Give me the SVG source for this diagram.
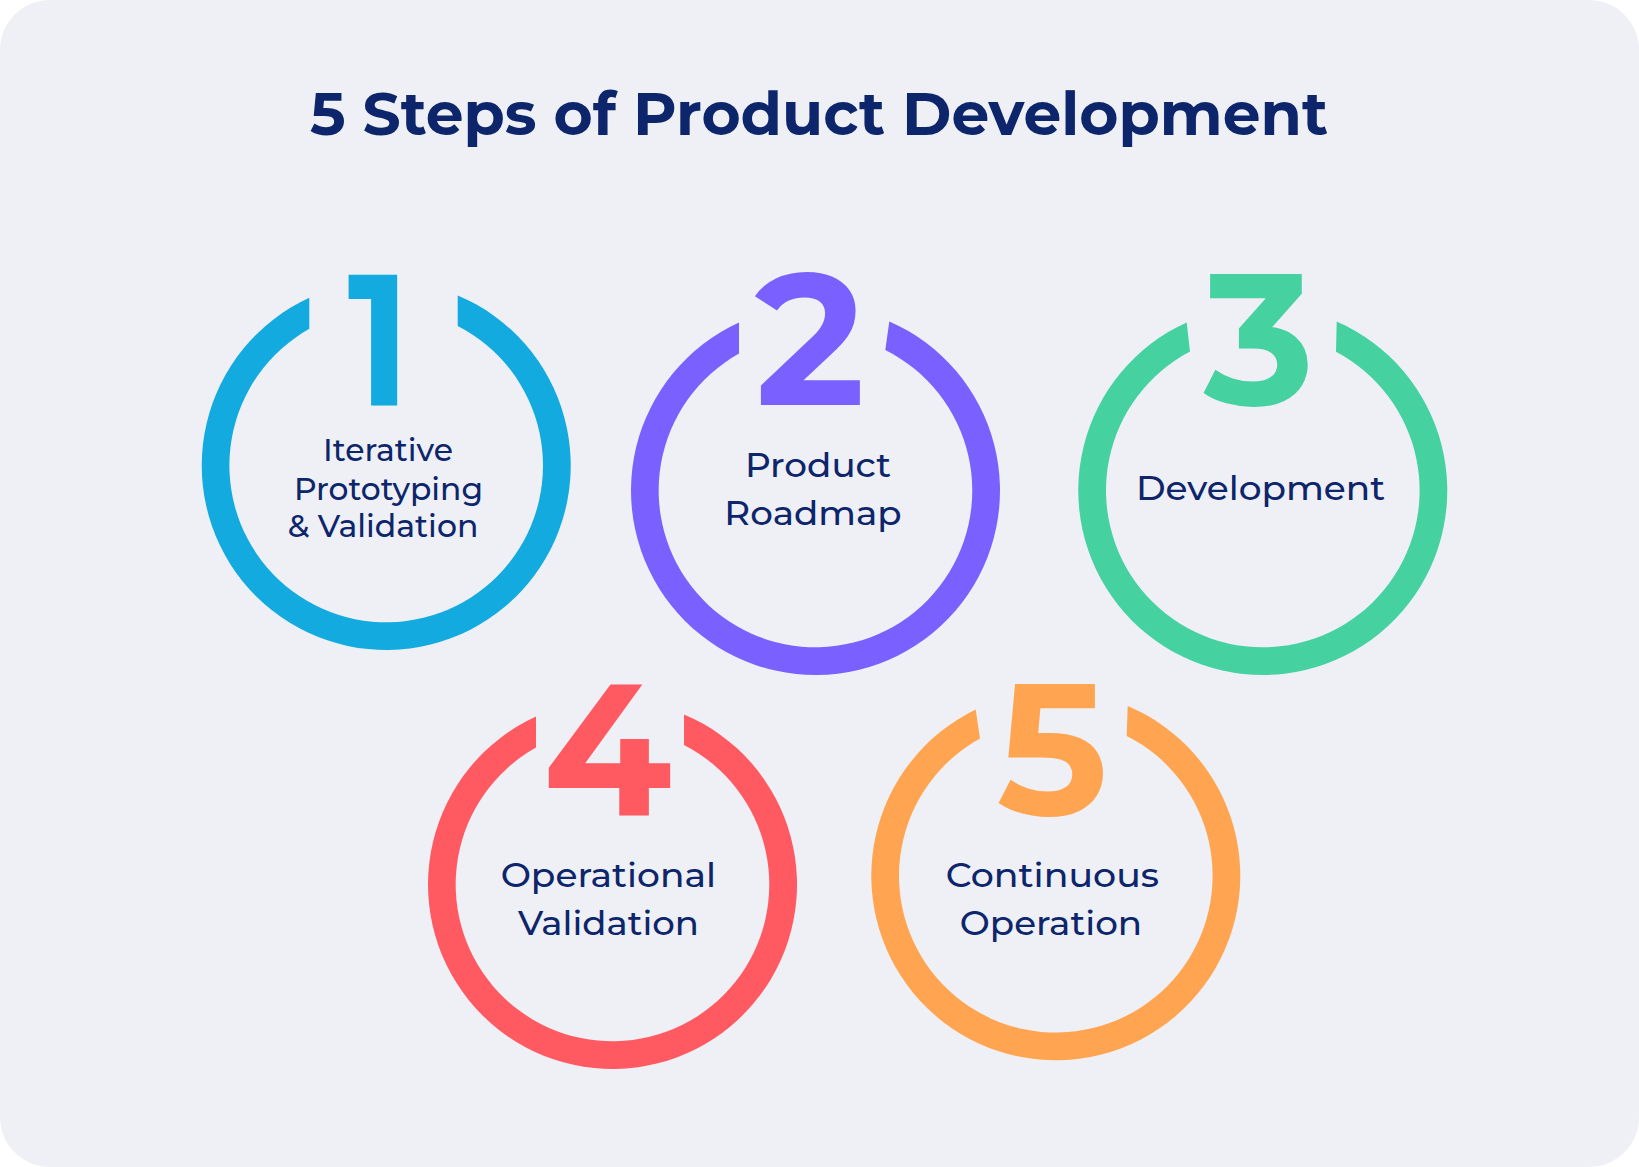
<svg xmlns="http://www.w3.org/2000/svg" width="1639" height="1167" viewBox="0 0 1639 1167">
  <style>
    .title { font-family: "Montserrat", "Inter", "Open Sans", sans-serif; font-weight: 700; font-size: 60px; fill: #0D266B; }
    .label { font-family: "Montserrat", "Inter", "Open Sans", sans-serif; font-weight: 500; fill: #0D266B; text-anchor: middle; }
    .digit { font-family: "Montserrat", "Inter", "Open Sans", sans-serif; font-weight: 700; font-size: 187px; text-anchor: middle; }
    .c1 { fill: #13AADF; }
    .c2 { fill: #7A61FF; }
    .c3 { fill: #46D1A1; }
    .c4 { fill: #FF5A61; }
    .c5 { fill: #FFA552; }
  </style>
  <rect x="0" y="0" width="1639" height="1167" fill="#FFFFFF"/>
  <rect id="card" x="0" y="0" width="1639" height="1167" rx="50" ry="50" fill="#EFF0F6"/>

  <text id="title" class="title" x="310" y="135" textLength="1018" lengthAdjust="spacingAndGlyphs">5 Steps of Product Development</text>

  <g id="connectors"></g>

  <g id="step1">
    <path class="c1" d="M309.3,297.8 A184.5,184.5 0 1 0 457.7,295.4 L457.7,325.95 A156.8,156.8 0 1 1 309.3,328.85 Z"/>
    <text class="digit c1" x="379" y="405" textLength="63" lengthAdjust="spacingAndGlyphs">1</text>
    <text class="label" font-size="31" x="388" y="461" textLength="130" lengthAdjust="spacingAndGlyphs">Iterative</text>
    <text class="label" font-size="31" x="388.5" y="500" textLength="189" lengthAdjust="spacingAndGlyphs">Prototyping</text>
    <text class="label" font-size="31" x="383" y="537.3" textLength="190.7" lengthAdjust="spacingAndGlyphs">&amp; Validation</text>
  </g>

  <g id="step2">
    <path class="c2" d="M739,322.6 A184.5,184.5 0 1 0 889.3,321.4 L885.3,350.1 A156.8,156.8 0 1 1 739,353.6 Z"/>
    <text class="digit c2" x="810" y="405">2</text>
    <text class="label" font-size="34" x="818" y="476.7" textLength="146" lengthAdjust="spacingAndGlyphs">Product</text>
    <text class="label" font-size="34" x="813" y="525" textLength="177.3" lengthAdjust="spacingAndGlyphs">Roadmap</text>
  </g>

  <g id="step3">
    <path class="c3" d="M1186.7,322.4 A184.5,184.5 0 1 0 1336.7,321.45 L1336,351.8 A156.8,156.8 0 1 1 1190,351.6 Z"/>
    <text class="digit c3" x="1259" y="405">3</text>
    <text class="label" font-size="33" x="1260.5" y="500" textLength="249" lengthAdjust="spacingAndGlyphs">Development</text>
  </g>

  <g id="step4">
    <path class="c4" d="M536,716.6 A184.5,184.5 0 1 0 684,714.4 L684,744.95 A156.8,156.8 0 1 1 536,747.6 Z"/>
    <text class="digit c4" x="607.5" y="815">4</text>
    <text class="label" font-size="34" x="608.3" y="886.7" textLength="215.3" lengthAdjust="spacingAndGlyphs">Operational</text>
    <text class="label" font-size="34" x="608.5" y="935" textLength="181" lengthAdjust="spacingAndGlyphs">Validation</text>
  </g>

  <g id="step5">
    <path class="c5" d="M975.7,709.6 A184.5,184.5 0 1 0 1127.7,705.9 L1126.7,735.9 A156.8,156.8 0 1 1 980,738.5 Z"/>
    <text class="digit c5" x="1052.5" y="815">5</text>
    <text class="label" font-size="34" x="1052.3" y="886.7" textLength="213.3" lengthAdjust="spacingAndGlyphs">Continuous</text>
    <text class="label" font-size="34" x="1051" y="935" textLength="182.3" lengthAdjust="spacingAndGlyphs">Operation</text>
  </g>
</svg>
